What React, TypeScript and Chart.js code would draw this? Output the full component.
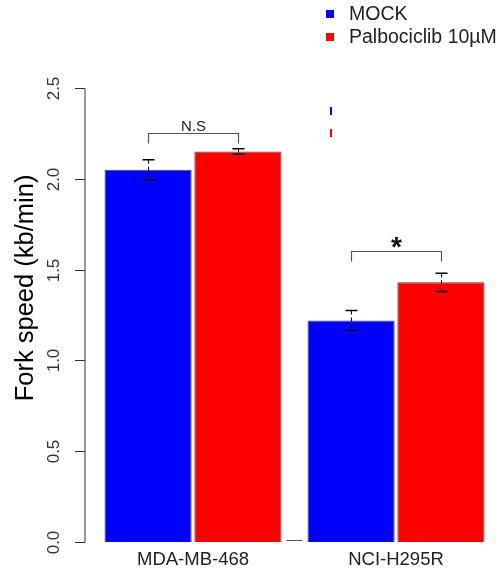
import React, { useEffect, useRef } from "react";
import { Chart, registerables } from "chart.js";

Chart.register(...registerables);

const categories = ["MDA-MB-468", "NCI-H295R"];
const seriesNames = ["MOCK", "Palbociclib 10µM"];
const mockValues = [2.05, 1.22];
const palboValues = [2.15, 1.43];
const mockErrors = [0.055, 0.055];
const palboErrors = [0.015, 0.05];
const sigLabels = ["N.S", "*"];
const sigBracketY = [2.25, 1.6];
const yTicks = [0, 0.5, 1.0, 1.5, 2.0, 2.5];
const yTickLabels = ["0.0", "0.5", "1.0", "1.5", "2.0", "2.5"];
const yTitle = "Fork speed (kb/min)";

const BLUE = "#0000ff";
const RED = "#ff0000";
const FONT = "'Liberation Sans', Arial, Helvetica, sans-serif";

const overlay = {
  id: "overlay",
  afterDatasetsDraw(chart: any) {
    const ctx = chart.ctx;
    const y = chart.scales.y;
    const x = chart.scales.x;
    const area = chart.chartArea;
    const errs = [mockErrors, palboErrors];
    const vals = [mockValues, palboValues];
    ctx.save();
    // error bars
    for (let d = 0; d < 2; d++) {
      const meta = chart.getDatasetMeta(d);
      meta.data.forEach((bar: any, i: number) => {
        const cx = Math.round(bar.x) + 0.5;
        const top = y.getPixelForValue(vals[d][i] + errs[d][i]);
        const bot = y.getPixelForValue(vals[d][i] - errs[d][i]);
        ctx.strokeStyle = "#000";
        ctx.lineWidth = 1;
        ctx.setLineDash([4, 3]);
        ctx.beginPath();
        ctx.moveTo(cx, top);
        ctx.lineTo(cx, bot);
        ctx.stroke();
        ctx.setLineDash([]);
        ctx.lineWidth = 1.5;
        ctx.beginPath();
        ctx.moveTo(cx - 6, top);
        ctx.lineTo(cx + 6, top);
        ctx.moveTo(cx - 6, bot);
        ctx.lineTo(cx + 6, bot);
        ctx.stroke();
      });
    }
    // significance brackets
    const m0 = chart.getDatasetMeta(0);
    const m1 = chart.getDatasetMeta(1);
    for (let i = 0; i < categories.length; i++) {
      const x1 = Math.round(m0.data[i].x) + 0.5;
      const x2 = Math.round(m1.data[i].x) + 0.5;
      const by = Math.round(y.getPixelForValue(sigBracketY[i])) + 0.5;
      const legY = by + 10;
      ctx.strokeStyle = "#555";
      ctx.lineWidth = 1.2;
      ctx.beginPath();
      ctx.moveTo(x1, legY);
      ctx.lineTo(x1, by);
      ctx.lineTo(x2, by);
      ctx.lineTo(x2, legY);
      ctx.stroke();
      ctx.fillStyle = "#222";
      ctx.textAlign = "center";
      ctx.textBaseline = "alphabetic";
      if (sigLabels[i] === "*") {
        ctx.fillStyle = "#111";
        ctx.font = `bold 28px ${FONT}`;
        ctx.fillText(sigLabels[i], (x1 + x2) / 2, by + 4);
      } else {
        ctx.font = `15px ${FONT}`;
        ctx.fillText(sigLabels[i], (x1 + x2) / 2, by - 3);
      }
    }
    // small separator between groups
    const gx1 = x.getPixelForDecimal(0.5) - 8;
    const gx2 = x.getPixelForDecimal(0.5) + 8;
    ctx.strokeStyle = "#555";
    ctx.lineWidth = 1;
    ctx.beginPath();
    ctx.moveTo(gx1, area.bottom - 1.5);
    ctx.lineTo(gx2, area.bottom - 1.5);
    ctx.stroke();
    // y axis
    const axX = area.left - 6.5;
    ctx.strokeStyle = "#333";
    ctx.lineWidth = 1;
    ctx.beginPath();
    ctx.moveTo(axX, Math.round(y.getPixelForValue(yTicks[0])) + 0.5);
    ctx.lineTo(axX, Math.round(y.getPixelForValue(yTicks[yTicks.length - 1])) + 0.5);
    ctx.stroke();
    ctx.fillStyle = "#333";
    ctx.font = `17px ${FONT}`;
    yTicks.forEach((t, i) => {
      const py = Math.round(y.getPixelForValue(t)) + 0.5;
      ctx.beginPath();
      ctx.moveTo(axX - 10, py);
      ctx.lineTo(axX, py);
      ctx.stroke();
      ctx.save();
      ctx.translate(axX - 26, py);
      ctx.rotate(-Math.PI / 2);
      ctx.textAlign = "center";
      ctx.textBaseline = "alphabetic";
      ctx.fillText(yTickLabels[i], 0, 0);
      ctx.restore();
    });
    // y title
    ctx.save();
    ctx.fillStyle = "#000";
    ctx.font = `25.5px ${FONT}`;
    ctx.translate(39, 288);
    ctx.rotate(-Math.PI / 2);
    ctx.textAlign = "center";
    ctx.textBaseline = "bottom";
    ctx.fillText(yTitle, 0, 0);
    ctx.restore();
    // x labels
    ctx.fillStyle = "#222";
    ctx.font = `18.5px ${FONT}`;
    ctx.textAlign = "center";
    ctx.textBaseline = "middle";
    categories.forEach((c, i) => {
      ctx.fillText(c, x.getPixelForValue(i), area.bottom + 18);
    });
    // legend
    const colors = [BLUE, RED];
    ctx.font = `19.5px ${FONT}`;
    ctx.textAlign = "left";
    ctx.textBaseline = "middle";
    seriesNames.forEach((n, i) => {
      const ly = 14 + i * 23;
      ctx.fillStyle = colors[i];
      ctx.fillRect(326, ly - 4, 8, 8);
      ctx.fillStyle = "#222";
      ctx.fillText(n, 349, ly + 1);
      // small marks below
      ctx.fillStyle = colors[i];
      ctx.fillRect(330, 107 + i * 22, 2, 8);
    });
    ctx.restore();
  },
};

export default function App() {
  const ref = useRef<HTMLCanvasElement>(null);
  useEffect(() => {
    if (!ref.current) return;
    const chart = new Chart(ref.current, {
      type: "bar",
      data: {
        labels: categories,
        datasets: [
          {
            label: seriesNames[0],
            data: mockValues,
            backgroundColor: BLUE,
            borderColor: "#444",
            borderWidth: 1,
            categoryPercentage: 0.885,
            barPercentage: 0.97,
          },
          {
            label: seriesNames[1],
            data: palboValues,
            backgroundColor: RED,
            borderColor: "#444",
            borderWidth: 1,
            categoryPercentage: 0.885,
            barPercentage: 0.97,
          },
        ],
      },
      options: {
        responsive: false,
        animation: false,
        layout: { padding: { left: 91.5, right: 5.5, top: 88, bottom: 36 } },
        plugins: { legend: { display: false }, tooltip: { enabled: false } },
        scales: {
          x: { display: false },
          y: { display: false, min: 0, max: 2.5 },
        },
      },
      plugins: [overlay],
    });
    return () => chart.destroy();
  }, []);
  return (
    <div style={{ position: "absolute", left: 0, top: 0, width: 503, height: 578 }}>
      <canvas ref={ref} width={503} height={578} />
    </div>
  );
}
